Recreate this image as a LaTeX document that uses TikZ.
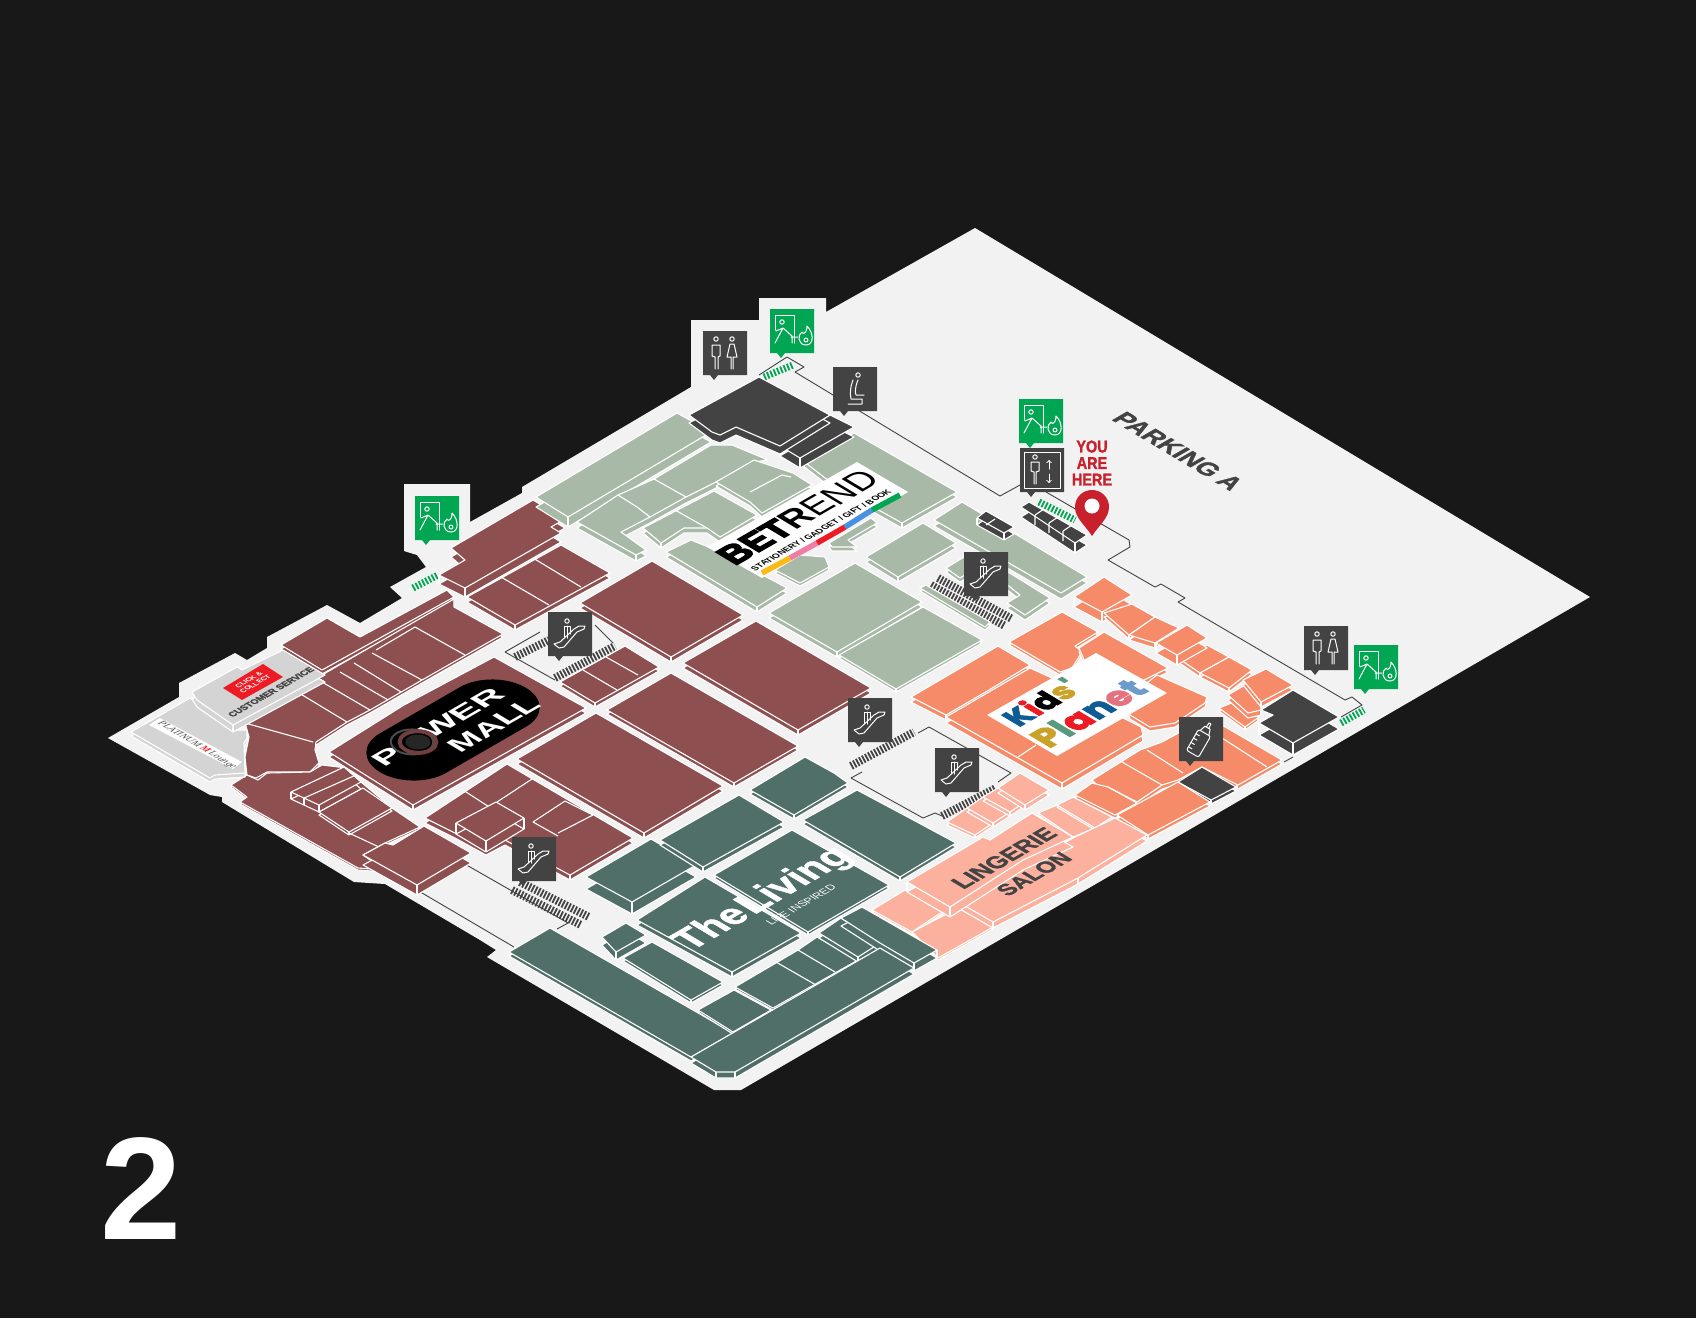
\documentclass[tikz,border=0pt]{standalone}
\usepackage{graphicx}
\usepackage{fontspec}
\setmainfont{Liberation Sans}
\newfontfamily\fatfont[FakeBold=5]{Liberation Sans Bold}
\newfontfamily\semifont[FakeBold=1.5]{Liberation Sans Bold}
\newfontfamily\logofont[FakeBold=3]{Poppins Bold}
\newfontfamily\loungefont{Liberation Serif}
\definecolor{bgdark}{HTML}{181818}
\definecolor{floorgrey}{HTML}{F2F2F2}
\definecolor{maroon}{HTML}{8E4F50}
\definecolor{sage}{HTML}{A9B9A8}
\definecolor{salmon}{HTML}{F58B69}
\definecolor{blush}{HTML}{FCB19E}
\definecolor{teal}{HTML}{4F6F68}
\definecolor{slate}{HTML}{434343}
\definecolor{exitgreen}{HTML}{00A651}
\definecolor{pinred}{HTML}{C8202D}
\definecolor{servicegrey}{HTML}{D4D4D4}
\definecolor{clickred}{HTML}{ED1C24}
\definecolor{mustard}{HTML}{C9A227}
\definecolor{navy}{HTML}{0F5B94}
\definecolor{rosy}{HTML}{E5737F}
\definecolor{skyblue}{HTML}{6B9CCC}
\definecolor{leaf}{HTML}{5A9A7C}
\tikzset{
  wall/.style={draw=white,line width=1.1pt,line join=round},
  route/.style={draw=slate,line width=0.9pt,line join=round},
  ladder/.style={draw=slate,line width=8pt,dash pattern=on 1.8pt off 1.6pt},
  exitladder/.style={draw=exitgreen,line width=7pt,dash pattern=on 1.8pt off 1.8pt},
  glyph/.style={draw=white,line width=1pt,line join=round,line cap=round},
  alongu/.style={cm={.866,.5,-.866,.52,(0,0)},inner sep=0pt},
  alongv/.style={cm={.866,-.52,.866,.5,(0,0)},inner sep=0pt},
  escicon/.pic={
    \fill[slate] (0,0) rectangle (44,44) (7,44) -- (15,44) -- (11,49) -- cycle;
    \draw[glyph] (6,32) -- (11,36) -- (16,35) -- (29,20) -- (36,17) -- (37,14) -- (31,14) -- (26,17) -- (12,30) -- cycle;
    \draw[glyph] (19,9) circle [radius=2.2];
    \draw[glyph] (16,25) -- (16,14) -- (22,14) -- (22,22) (19,14) -- (19,26);
  },
  fireicon/.pic={
    \fill[exitgreen] (0,0) rectangle (44,44) (7,44) -- (15,44) -- (11,49) -- cycle;
    \draw[glyph] (5,21) -- (5,6) -- (24,6) -- (24,34);
    \draw[glyph] (12,13) circle [radius=2.2];
    \draw[glyph] (5,34) -- (13,19) -- (22,27) -- (22,34) (6,22) -- (13,19) (21,28) -- (28,28);
    \draw[glyph] (37,17) .. controls (44,24) and (44,36) .. (36,36) .. controls (28,36) and (27,26) .. (32,23) .. controls (33,26) and (37,24) .. (37,17);
    \draw[glyph] (36,31) circle [radius=2];
  },
  wcicon/.pic={
    \fill[slate] (0,0) rectangle (44,44) (7,44) -- (15,44) -- (11,49) -- cycle;
    \draw[glyph] (13,8) circle [radius=2.2] (29,8) circle [radius=2.2];
    \draw[glyph] (12,38) -- (12,26) -- (9,25) -- (9,14) -- (17,14) -- (17,25) -- (15,26) -- (15,38);
    \draw[glyph] (28,38) -- (28,26) -- (24,26) -- (27,13) -- (31,13) -- (34,26) -- (30,26) -- (30,38);
  },
  lifticon/.pic={
    \fill[slate] (0,0) rectangle (44,44) (7,44) -- (15,44) -- (11,49) -- cycle;
    \draw[glyph] (4,4) rectangle (40,40);
    \draw[glyph] (15,9) circle [radius=2.2];
    \draw[glyph] (14,36) -- (14,24) -- (11,23) -- (11,14) -- (19,14) -- (19,23) -- (16,24) -- (16,36);
    \draw[glyph,->] (29,21) -- (29,12);
    \draw[glyph,->] (29,26) -- (29,35);
  },
  sitticon/.pic={
    \fill[slate] (0,0) rectangle (44,44) (7,44) -- (15,44) -- (11,49) -- cycle;
    \draw[glyph] (25,8) circle [radius=2.2];
    \draw[glyph] (20,13) .. controls (17,20) and (17,27) .. (18,32) -- (29,32) -- (29,37) -- (15,37);
    \draw[glyph] (25,13) .. controls (22,20) and (22,25) .. (23,28) -- (31,28);
  },
  bottleicon/.pic={
    \fill[slate] (0,0) rectangle (44,44) (7,44) -- (15,44) -- (11,49) -- cycle;
    \begin{scope}[shift={(22,22)},rotate=-30]
      \draw[glyph,rounded corners=2pt] (-7,-7) rectangle (7,17);
      \draw[glyph] (-5,-7) -- (-3,-13) -- (3,-13) -- (5,-7) (-1.5,-13) -- (-1,-18) -- (1,-18) -- (1.5,-13);
      \foreach \tick in {-2,3,8,13} {\draw[glyph] (-7,\tick) -- (-3,\tick);}
    \end{scope}
  },
}
\newcommand{\shop}[4][]{%
  \draw[wall,fill=#2,shift={(0,#3)}] #4 -- cycle;
  \draw[wall,fill=#2] #4 -- cycle;
  \if\relax\detokenize{#1}\relax\else
    \foreach \cx/\cy in {#1} {\draw[wall] (\cx,\cy) -- ++(0,#3);}
  \fi}
\newcommand{\fitw}[2]{\resizebox{#1pt}{!}{#2}}
\begin{document}
\begin{tikzpicture}[x=1pt,y=-1pt]
\useasboundingbox (0,0) rectangle (1696,1318);
\fill[bgdark] (0,0) rectangle (1696,1318);
% floor
\fill[floorgrey] (108,738) -- (179,697) -- (179,683) -- (235,653) -- (247,660) -- (267,648) -- (267,637) -- (327,605) -- (360,623) -- (402,598) -- (390,587) -- (426,567) -- (417,555) -- (404,551) -- (404,484) -- (470,484) -- (470,522) -- (522,493) -- (522,487) -- (691,387) -- (691,320) -- (759,320) -- (759,298) -- (826,298) -- (826,312) -- (975,228) -- (1590,597) -- (741,1090) -- (714,1090) -- (487,957) -- (496,950) -- (480,940) -- (385,884) -- (354,882) -- (222,802) -- (222,797) -- (210,795) -- cycle;
% service route lines
\draw[route] (759,375) -- (787,357) -- (804,367) -- (795,372) -- (1000,496) -- (1020,485);
\draw[route] (1046,492) -- (1129,540) -- (1130,547) -- (1108,560) -- (1155,587) -- (1161,584) -- (1185,598) -- (1178,602) -- (1345,700) -- (1352,697) -- (1362,705) -- (1341,717);
\draw[route] (1293,757) -- (1284,762);
\draw[route] (505,652) -- (540,632) (595,625) -- (613,643) (505,652) -- (555,680);
\draw[route] (851,778) -- (862,772) -- (851,778) -- (923,818) -- (935,813) -- (942,816);
\draw[route] (918,733) -- (929,727) -- (1011,773) -- (998,782);
\draw[route] (463,863) -- (568,923) -- (557,929);
\draw[route] (417,890) -- (514,947);
% escalators
\draw[ladder] (515,657) -- (549,640);
\draw[ladder] (555,678) -- (615,646);
\draw[ladder] (851,766) -- (914,732);
\draw[ladder] (942,816) -- (996,788);
\draw[ladder] (520,882) -- (589,917);
\draw[ladder] (512,890) -- (581,925);
\draw[ladder] (938,578) -- (1012,619);
\draw[ladder] (931,585) -- (1005,626);
% fire stairs
\draw[exitladder] (413,588) -- (438,575);
\draw[exitladder] (764,377) -- (793,365);
\draw[exitladder] (1039,502) -- (1075,520);
\draw[exitladder] (1341,723) -- (1364,710);
% power mall wing, upper left
\shop{maroon}{4}{(281,645) -- (327,618) -- (360,637) -- (447,590) -- (454,597) -- (322,670)}
\shop{maroon}{3}{(245,723) -- (322,675) -- (454,599) -- (454,607) -- (503,634) -- (422,680) -- (370,710) -- (347,722) -- (316,742) -- (315,750) -- (319,763) -- (310,772) -- (267,772) -- (256,778) -- (247,775) -- (245,757) -- (249,737)}
\draw[wall] (245,723) -- (313,742) (299,693) -- (347,722) (322,682) -- (370,710) (340,672) -- (388,700) (354,663) -- (401,692) (372,653) -- (422,680) (415,627) -- (465,655) (376,650) -- (415,627);
\shop[465/588,439/575]{maroon}{9}{(533,500) -- (565,519) -- (551,527) -- (561,533) -- (465,588) -- (439,575) -- (465,560) -- (451,548)}
\shop[515/625]{maroon}{5}{(467,597) -- (561,545) -- (610,573) -- (515,625)}
\draw[wall] (501,577) -- (549,605) (533,558) -- (581,587);
% lower left
\shop{maroon}{2}{(231,785) -- (247,775) -- (258,780) -- (267,773) -- (310,772) -- (322,765) -- (347,768) -- (361,782) -- (392,808) -- (420,827) -- (385,843) -- (363,855) -- (385,870) -- (358,868) -- (240,802) -- (247,797)}
\shop[291/792,304/798,319/805]{maroon}{7}{(291,792) -- (344,767) -- (361,782) -- (319,805)}
\draw[wall] (304,798) -- (356,775);
\shop[349/832]{maroon}{3}{(319,812) -- (363,788) -- (392,808) -- (349,832)}
\draw[wall] (349,833) -- (379,847);
\shop[417/885]{maroon}{10}{(363,855) -- (385,843) -- (393,845) -- (424,826) -- (471,853) -- (417,885)}
% power mall atrium
\shop[413/805]{maroon}{5}{(329,752) -- (404,705) -- (494,657) -- (586,708) -- (413,805)}
\begin{scope}[x=1pt,y=1pt,cm={1,.577,1,-.6,(453pt,-730pt)}]
  \fill[black] (-40,-33) -- (40,-33) arc (-90:90:33) -- (-40,33) arc (90:270:33) -- cycle;
\end{scope}
\node[alongu,text=white] (powerword) at (438,727) {\resizebox{142pt}{18pt}{\bfseries P\textcolor{black}{O}WER}};
\node[alongu,text=white] (mallword) at (494,725) {\resizebox{95pt}{18pt}{\bfseries MALL}};
\begin{scope}[x=1pt,y=1pt,cm={1,.577,1,-.6,(418pt,-742pt)}]
  \draw[black!70!white,line width=2pt] (-3,-3) circle [radius=15];
  \draw[maroon!80!black,line width=4pt] (0,0) circle [radius=13];
  \fill[black!85!white] (0,0) circle [radius=9];
\end{scope}
% large maroon shops
\shop[671/657]{maroon}{5}{(580,603) -- (652,561) -- (743,615) -- (671,657)}
\shop[798/730]{maroon}{5}{(683,663) -- (756,621) -- (871,688) -- (798,730)}
\shop[734/783]{maroon}{4}{(607,710) -- (671,673) -- (798,746) -- (734,783)}
\shop[644/833]{maroon}{5}{(517,759) -- (596,713) -- (723,786) -- (644,833)}
\shop[595/703]{maroon}{4}{(560,682) -- (625,646) -- (659,667) -- (595,703)}
\draw[wall] (583,670) -- (617,690) (606,657) -- (638,675);
\shop[570/875]{maroon}{5}{(425,818) -- (507,764) -- (633,838) -- (570,875) -- (505,840) -- (486,850) -- (455,833)}
\draw[wall] (463,790) -- (497,812) (532,779) -- (497,802) (533,822) -- (565,801) -- (593,815) (558,833) -- (593,815) (533,822) -- (558,836);
\shop[486/841,456/823,524/818]{maroon}{11}{(456,823) -- (496,802) -- (524,818) -- (486,841)}
% customer service and lounge
\shop{servicegrey}{4}{(131,732) -- (190,698) -- (232,730) -- (247,730) -- (247,738) -- (244,743) -- (245,773) -- (215,775) -- (210,778)}
\shop[233/725]{servicegrey}{7}{(192,692) -- (237,667) -- (242,670) -- (283,650) -- (325,675) -- (233,725) -- (197,700)}
\fill[white] (149,725) -- (160,718) -- (242,762) -- (233,769) -- cycle;
\node[alongv,text=black!70!white] (loungeword) at (197,745) {\fitw{87}{\loungefont\itshape PLATINUM \textcolor{clickred}{\bfseries M}\,Lounge}};
\fill[clickred] (223,688) -- (263,664) -- (283,677) -- (242,700) -- cycle;
\node[alongu,text=white,align=center,font=\bfseries\fontsize{7}{7.5}\selectfont] (clickword) at (252,682) {CLICK \&\\COLLECT};
\node[alongu,text=slate] (serviceword) at (271,692) {\fitw{95}{\semifont CUSTOMER SERVICE}};
% toilets core, betrend wing
\shop[568/517]{sage}{10}{(536,497) -- (677,413) -- (711,432) -- (568,517)}
\shop[636/555]{sage}{6}{(577,522) -- (618,495) -- (654,479) -- (711,445) -- (732,445) -- (768,460) -- (754,462) -- (716,482) -- (686,497) -- (650,517) -- (621,532) -- (646,550) -- (636,555)}
\draw[wall] (618,495) -- (637,507) -- (650,517) (654,479) -- (686,497);
\shop[661/543]{sage}{5}{(643,528) -- (714,491) -- (757,515) -- (720,537) -- (707,528) -- (684,528) -- (661,543)}
\draw[wall] (675,510) -- (707,528);
\shop{sage}{4}{(716,482) -- (754,460) -- (793,473) -- (812,485) -- (762,513) -- (750,502)}
\draw[wall] (750,492) -- (782,475) -- (791,477);
\shop[902/523]{sage}{5}{(802,460) -- (854,433) -- (957,492) -- (902,523) -- (875,508) -- (825,478)}
\shop[757/607]{sage}{5}{(666,552) -- (691,540) -- (716,550) -- (787,588) -- (757,607)}
\shop{sage}{3}{(775,570) -- (800,555) -- (825,557) -- (829,567) -- (800,583)}
\shop{sage}{4}{(829,543) -- (871,518) -- (877,523) -- (848,540) -- (857,547) -- (832,547)}
\shop[898/577]{sage}{5}{(866,557) -- (923,523) -- (956,543) -- (898,577)}
\shop[837/652]{sage}{5}{(769,613) -- (855,563) -- (922,602) -- (837,652)}
\shop[896/689]{sage}{3}{(839,655) -- (923,607) -- (982,640) -- (896,689)}
\shop{sage}{6}{(934,520) -- (962,502) -- (1087,577) -- (1061,593)}
\shop{sage}{3}{(920,588) -- (926,585) -- (990,622) -- (985,627)}
\shop{sage}{4}{(946,568) -- (964,557) -- (970,572) -- (960,578)}
\shop{sage}{5}{(1007,603) -- (1020,595) -- (1005,583) -- (1008,572) -- (1050,598) -- (1025,615)}
% dark cores
\shop[800/458,780/446]{slate}{10}{(780,446) -- (830,415) -- (854,427) -- (800,458)}
\shop{slate}{8}{(689,415) -- (759,377) -- (830,415) -- (780,446) -- (736,427) -- (720,435) -- (712,432)}
\shop[1004/533,977/518]{slate}{7}{(977,518) -- (986,511) -- (1014,527) -- (1004,533)}
\draw[wall] (986,525) -- (995,519);
\shop[1075/543]{slate}{10}{(1021,507) -- (1029,502) -- (1087,535) -- (1075,543)}
\foreach \gx/\gy in {1035/515,1049/523,1063/531} {\draw[wall] (\gx,\gy) -- ++(9,-6) (\gx,\gy) -- ++(0,10);}
% betrend sign
\fill[white] (707,547) -- (857,462) -- (908,492) -- (762,578) -- cycle;
\node[alongu,text=black] (betrendword) at (798,517) {\fitw{170}{{\fatfont BET}{\bfseries R}END}};
\node[alongu,text=black] (betrendsub) at (821,530) {\fitw{158}{\bfseries STATIONERY / GADGET / GIFT / BOOK}};
\draw[line width=5.5pt,color={rgb,255:red,253;green,185;blue,19}] (762,573) -- (790,558);
\draw[line width=5.5pt,color={rgb,255:red,239;green,125;blue,166}] (790,558) -- (817,543);
\draw[line width=5.5pt,color=clickred] (817,543) -- (845,527);
\draw[line width=5.5pt,color={rgb,255:red,74;green,144;blue,226}] (845,527) -- (872,510);
\draw[line width=5.5pt,color=exitgreen] (872,510) -- (900,495);
% kids wing
\shop{salmon}{3}{(1009,642) -- (1062,612) -- (1098,632) -- (1075,646) -- (1082,652) -- (1072,668) -- (1060,672)}
\shop{salmon}{4}{(1079,648) -- (1104,632) -- (1168,668) -- (1120,692) -- (1085,662)}
\shop{salmon}{4}{(1125,700) -- (1157,675) -- (1207,697) -- (1205,703) -- (1175,723) -- (1150,727) -- (1130,715)}
\shop[946/715]{salmon}{5}{(911,697) -- (998,646) -- (1030,665) -- (989,690) -- (946,715)}
\shop[1062/783]{salmon}{6}{(946,717) -- (1030,668) -- (1052,678) -- (1060,720) -- (1123,718) -- (1141,727) -- (1143,735) -- (1062,783)}
\draw[wall] (1018,757) -- (1036,745);
\shop[1102/612,1074/597]{salmon}{10}{(1074,597) -- (1104,577) -- (1132,595) -- (1102,612)}
\shop[1129/635]{salmon}{4}{(1104,613) -- (1132,604) -- (1155,617) -- (1129,635)}
\shop[1155/643]{salmon}{5}{(1129,635) -- (1155,617) -- (1179,628) -- (1155,643)}
\shop[1200/673]{salmon}{4}{(1178,658) -- (1207,645) -- (1229,657) -- (1200,673)}
\shop[1229/688]{salmon}{4}{(1200,673) -- (1229,657) -- (1252,670) -- (1229,688)}
\shop[1177/655,1156/643]{salmon}{10}{(1156,643) -- (1187,625) -- (1207,638) -- (1177,655)}
\shop[1245/727]{salmon}{3}{(1219,708) -- (1234,702) -- (1259,717) -- (1245,727)}
\shop[1261/710]{salmon}{5}{(1228,695) -- (1245,685) -- (1261,700) -- (1261,710) -- (1248,713)}
\shop[1261/702]{salmon}{5}{(1243,680) -- (1266,669) -- (1293,685) -- (1261,702)}
\shop[1293/743,1259/723]{slate}{12}{(1261,710) -- (1293,690) -- (1339,717) -- (1293,743) -- (1259,723) -- (1273,715)}
% kids sign
\fill[white] (987,715) -- (1096,653) -- (1167,693) -- (1057,756) -- cycle;
\node[alongu] (kidsword) at (1041,702) {\fitw{76}{\logofont\textcolor{navy}{K}\textcolor{clickred}{i}\textcolor{black}{d}\textcolor{mustard}{s}\textcolor{leaf}{'}}};
\node[alongu] (planetword) at (1088,713) {\fitw{116}{\logofont\textcolor{mustard}{P}\textcolor{leaf}{l}\textcolor{clickred}{a}\textcolor{navy}{n}\textcolor{rosy}{e}\textcolor{skyblue}{t}}};
% lower salmon row
\shop[1237/785]{salmon}{4}{(1092,780) -- (1140,750) -- (1162,742) -- (1208,717) -- (1282,760) -- (1238,785) -- (1202,767) -- (1178,780) -- (1162,785) -- (1137,802) -- (1108,787) -- (1100,788)}
\draw[wall] (1122,762) -- (1162,785) (1147,750) -- (1183,773) (1222,738) -- (1267,767);
\shop[1211/800]{slate}{4}{(1178,782) -- (1202,767) -- (1236,787) -- (1211,800)}
\shop{salmon}{3}{(1075,795) -- (1092,783) -- (1108,787) -- (1137,803) -- (1115,815)}
\shop[1148/835]{salmon}{4}{(1117,815) -- (1178,782) -- (1210,802) -- (1148,835)}
% lingerie
\shop[975/835]{blush}{3}{(947,822) -- (967,808) -- (993,823) -- (975,835)}
\shop[993/823]{blush}{4}{(967,808) -- (983,797) -- (1010,812) -- (993,823)}
\shop[1010/812]{blush}{4}{(983,797) -- (998,788) -- (1025,802) -- (1010,812)}
\shop[1025/805]{blush}{5}{(998,788) -- (1020,773) -- (1049,790) -- (1025,805)}
\shop{blush}{2}{(1038,813) -- (1057,805) -- (1095,828) -- (1073,837)}
\shop{blush}{2}{(1057,805) -- (1073,797) -- (1112,817) -- (1095,828)}
\shop[872/910]{blush}{2}{(872,910) -- (905,890) -- (945,910) -- (912,932)}
\shop{blush}{2}{(912,932) -- (958,908) -- (993,927) -- (938,958)}
\shop[993/922,1078/878]{blush}{6}{(960,903) -- (1023,865) -- (1073,838) -- (1115,818) -- (1147,835) -- (1078,878) -- (993,922)}
\shop[950/907,907/882]{blush}{10}{(907,882) -- (983,837) -- (990,840) -- (1032,813) -- (1073,837) -- (1023,860) -- (950,907)}
\node[alongu,text=slate] (lingerieword) at (1004,858) {\fitw{110}{\semifont LINGERIE}};
\node[alongu,text=slate] (salonword) at (1034,874) {\fitw{76}{\semifont SALON}};
% the living wing
\shop[632/902]{teal}{12}{(586,877) -- (651,839) -- (696,865) -- (632,902)}
\shop[703/867]{teal}{5}{(660,840) -- (739,795) -- (784,822) -- (703,867)}
\shop[794/815]{teal}{4}{(750,790) -- (805,757) -- (834,773) -- (848,783) -- (794,815)}
\shop[900/877]{teal}{4}{(803,820) -- (857,790) -- (917,822) -- (956,843) -- (900,877)}
\shop[732/972]{teal}{5}{(637,920) -- (705,877) -- (801,933) -- (732,972)}
\shop[808/932]{teal}{3}{(714,875) -- (792,830) -- (889,885) -- (808,932)}
\shop[616/952]{teal}{8}{(602,937) -- (626,923) -- (646,935) -- (616,952)}
\shop[691/1000]{teal}{3}{(623,958) -- (652,942) -- (723,982) -- (691,1000)}
\shop{teal}{4}{(509,952) -- (550,928) -- (733,1033) -- (691,1057)}
\shop{teal}{2}{(698,1010) -- (734,990) -- (771,1010) -- (733,1032)}
\shop{teal}{2}{(735,987) -- (798,950) -- (817,937) -- (858,960) -- (773,1008)}
\draw[wall] (776,962) -- (816,985) (798,950) -- (835,972);
\shop[858/957]{teal}{5}{(819,933) -- (841,918) -- (880,943) -- (858,957)}
\shop[914/963,937/950]{teal}{8}{(841,918) -- (862,907) -- (937,950) -- (914,963) -- (880,943)}
\shop[716/1072,735/1072]{teal}{6}{(691,1057) -- (880,948) -- (914,968) -- (735,1072) -- (716,1072)}
\node[alongu,text=white] (livingword) at (764,899) {\fitw{188}{\semifont The\kern-.2em\ Living}};
\node[alongu,text=white] (lifeword) at (801,905) {\fitw{76}{LIFE INSPIRED}};
% parking, you are here
\node[alongv,text=slate] (parkingword) at (1178,451) {\fitw{138}{\semifont PARKING A}};
\node[text=pinred,align=center,font=\semifont\fontsize{17}{16.5}\selectfont,inner sep=0pt,xscale=.85] (hereword) at (1092,463) {YOU\\ARE\\HERE};
\fill[pinred] (1092,536) .. controls (1085,525) and (1075,518) .. (1075,507) .. controls (1075,497) and (1083,490) .. (1092,490) .. controls (1101,490) and (1109,497) .. (1109,507) .. controls (1109,518) and (1099,525) .. (1092,536);
\fill[white] (1092,506) circle [radius=7.5];
% icons
\pic (firewest) at (415,496) {fireicon};
\pic (firenorth) at (770,309) {fireicon};
\pic (firecore) at (1019,399) {fireicon};
\pic (fireeast) at (1354,645) {fireicon};
\pic (wcnorth) at (703,331) {wcicon};
\pic (wceast) at (1304,626) {wcicon};
\pic (sittnorth) at (833,367) {sitticon};
\pic (liftcore) at (1020,448) {lifticon};
\pic (bottleeast) at (1179,717) {bottleicon};
\pic (escone) at (548,612) {escicon};
\pic (esctwo) at (964,552) {escicon};
\pic (escthree) at (848,698) {escicon};
\pic (escfour) at (935,748) {escicon};
\pic (escfive) at (512,837) {escicon};
% floor number
\node[text=white,font=\bfseries\fontsize{146}{146}\selectfont,inner sep=0pt] (floorword) at (141,1189) {2};
\end{tikzpicture}
\end{document}
